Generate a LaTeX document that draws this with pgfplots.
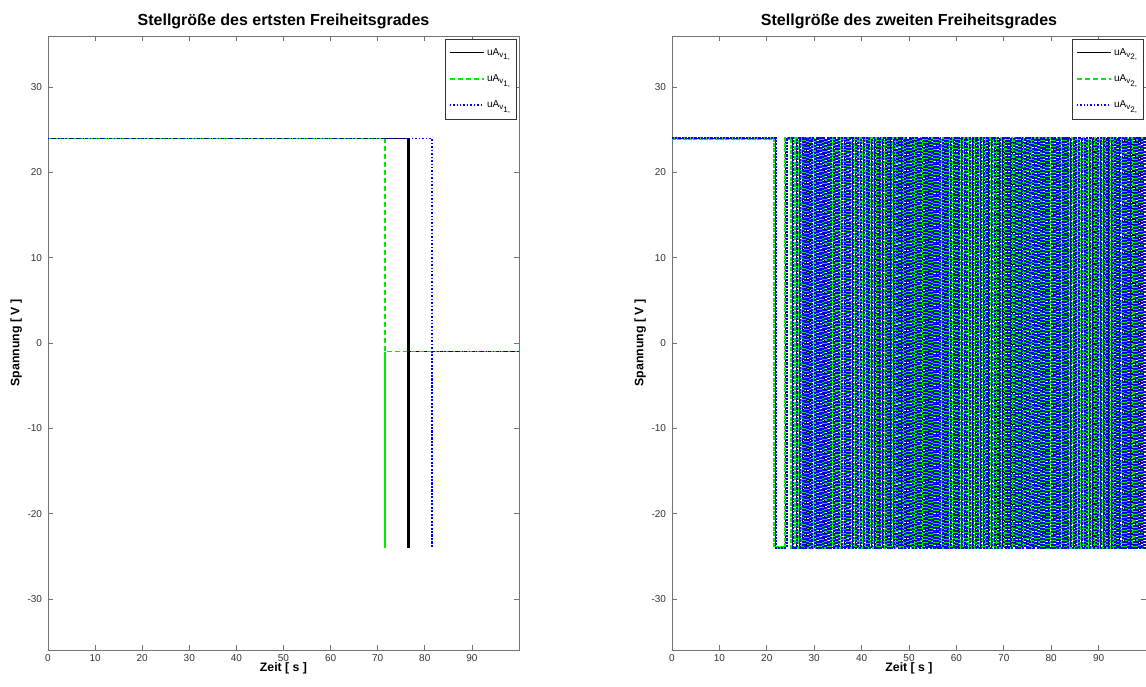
\documentclass[border=0pt]{standalone}
\usepackage{pgfplots}
\pgfplotsset{compat=1.18}
\usepackage{pgfplotstable}
\usepackage{fontspec}
\setmainfont{Liberation Sans}

\definecolor{mgreen}{RGB}{0,235,0}
\definecolor{mblue}{RGB}{0,0,255}

\pgfplotstableread{
a b c y
0 0 0 24
21.7 21.5 21.9 -24
24.0 23.8 24.2 24
25.3 25.1 25.5 -24
26.2 26.0 26.4 24
26.8 26.6 27.0 -24
27.4 27.2 27.6 24
27.9 27.7 28.1 -24
28.4 28.2 28.6 24
28.9 28.7 29.1 -24
29.4 29.2 29.6 24
30.0 29.8 30.2 -24
30.5 30.3 30.7 24
31.1 30.9 31.3 -24
31.7 31.5 31.9 24
32.2 32.0 32.4 -24
32.8 32.6 33.0 24
33.4 33.2 33.6 -24
34.0 33.8 34.2 24
34.5 34.3 34.7 -24
35.1 34.9 35.3 24
35.7 35.5 35.9 -24
36.3 36.1 36.5 24
36.8 36.6 37.0 -24
37.4 37.2 37.6 24
38.0 37.8 38.2 -24
38.6 38.4 38.8 24
39.1 38.9 39.3 -24
39.7 39.5 39.9 24
40.3 40.1 40.5 -24
40.9 40.7 41.1 24
41.4 41.2 41.6 -24
42.0 41.8 42.2 24
42.6 42.4 42.8 -24
43.2 43.0 43.4 24
43.7 43.5 43.9 -24
44.3 44.1 44.5 24
44.9 44.7 45.1 -24
45.5 45.3 45.7 24
46.0 45.8 46.2 -24
46.6 46.4 46.8 24
47.2 47.0 47.4 -24
47.8 47.6 48.0 24
48.3 48.1 48.5 -24
48.9 48.7 49.1 24
49.5 49.3 49.7 -24
50.1 49.9 50.3 24
50.6 50.4 50.8 -24
51.2 51.0 51.4 24
51.8 51.6 52.0 -24
52.4 52.2 52.6 24
52.9 52.7 53.1 -24
53.5 53.3 53.7 24
54.1 53.9 54.3 -24
54.7 54.5 54.9 24
55.2 55.0 55.4 -24
55.8 55.6 56.0 24
56.4 56.2 56.6 -24
57.0 56.8 57.2 24
57.5 57.3 57.7 -24
58.1 57.9 58.3 24
58.7 58.5 58.9 -24
59.3 59.1 59.5 24
59.8 59.6 60.0 -24
60.4 60.2 60.6 24
61.0 60.8 61.2 -24
61.6 61.4 61.8 24
62.1 61.9 62.3 -24
62.7 62.5 62.9 24
63.3 63.1 63.5 -24
63.9 63.7 64.1 24
64.4 64.2 64.6 -24
65.0 64.8 65.2 24
65.6 65.4 65.8 -24
66.2 66.0 66.4 24
66.7 66.5 66.9 -24
67.3 67.1 67.5 24
67.9 67.7 68.1 -24
68.5 68.3 68.7 24
69.0 68.8 69.2 -24
69.6 69.4 69.8 24
70.2 70.0 70.4 -24
70.8 70.6 71.0 24
71.3 71.1 71.5 -24
71.9 71.7 72.1 24
72.5 72.3 72.7 -24
73.1 72.9 73.3 24
73.6 73.4 73.8 -24
74.2 74.0 74.4 24
74.8 74.6 75.0 -24
75.4 75.2 75.6 24
75.9 75.7 76.1 -24
76.5 76.3 76.7 24
77.1 76.9 77.3 -24
77.7 77.5 77.9 24
78.2 78.0 78.4 -24
78.8 78.6 79.0 24
79.4 79.2 79.6 -24
80.0 79.8 80.2 24
80.5 80.3 80.7 -24
81.1 80.9 81.3 24
81.7 81.5 81.9 -24
82.3 82.1 82.5 24
82.8 82.6 83.0 -24
83.4 83.2 83.6 24
84.0 83.8 84.2 -24
84.6 84.4 84.8 24
85.1 84.9 85.3 -24
85.7 85.5 85.9 24
86.3 86.1 86.5 -24
86.9 86.7 87.1 24
87.4 87.2 87.6 -24
88.0 87.8 88.2 24
88.6 88.4 88.8 -24
89.2 89.0 89.4 24
89.7 89.5 89.9 -24
90.3 90.1 90.5 24
90.9 90.7 91.1 -24
91.5 91.3 91.7 24
92.0 91.8 92.2 -24
92.6 92.4 92.8 24
93.2 93.0 93.4 -24
93.8 93.6 94.0 24
94.3 94.1 94.5 -24
94.9 94.7 95.1 24
95.5 95.3 95.7 -24
96.1 95.9 96.3 24
96.6 96.4 96.8 -24
97.2 97.0 97.4 24
97.8 97.6 98.0 -24
98.4 98.2 98.6 24
98.9 98.7 99.1 -24
99.5 99.3 99.7 24
100.5 100.5 100.5 -24
}\rightdata

\pgfplotsset{
  mstyle/.style={
    scale only axis,
    height=460.5pt,
    xmin=0, xmax=100, ymin=-36, ymax=36,
    xtick={0,10,...,90}, ytick={-30,-20,...,30},
    tick align=inside, major tick length=3.5pt,
    tick style={black!55, line width=0.5pt},
    axis line style={black!55, line width=0.7pt},
    ticklabel style={font=\fontsize{7.5}{8}\selectfont, text=black!80},
    yticklabel style={xshift=-1pt},
    /pgf/number format/assume math mode=true,
    xlabel={Zeit [ s ]}, ylabel={Spannung [ V ]},
    label style={font=\fontsize{9.2}{10}\selectfont\bfseries},
    xlabel style={at={(axis description cs:0.5,0)}, anchor=north, yshift=-6pt},
    ylabel style={at={(axis description cs:-0.045,0.5)}, anchor=south},
    title style={font=\fontsize{12}{14}\selectfont\bfseries, at={(axis description cs:0.5,1)}, anchor=south, yshift=-4pt},
    legend style={at={(axis description cs:1,1)}, anchor=north east, xshift=-1.5pt, yshift=-2pt,
      font=\fontsize{7.5}{8}\selectfont, draw=black!80, row sep=9pt,
      inner xsep=3pt, inner ysep=5pt, cells={anchor=west}},
    legend image code/.code={\draw[##1] (0cm,0cm) -- (0.9cm,0cm);},
  }
}

\newcommand{\ent}[2]{uA\raisebox{-0.45ex}{\fontsize{6}{6}\selectfont v\raisebox{-0.55ex}{#1#2}}}

\begin{document}
\begin{tikzpicture}
\useasboundingbox (0,0) rectangle (859.5pt,514.5pt);

\begin{axis}[mstyle, width=353.25pt, at={(36pt,27pt)}, anchor=south west,
  title={Stellgröße des ertsten Freiheitsgrades}]
\addplot[color=black, line width=1pt] coordinates {(0,24) (76.5,24) (76.5,-24) (76.5,-1) (100,-1)};
\addlegendentry{\ent{1}{,}}
\addplot[color=mgreen, line width=1.1pt, dash pattern=on 4pt off 2pt] coordinates {(0,24) (71.5,24) (71.5,-24) (71.5,-1) (100,-1)};
\addlegendentry{\ent{1}{,}}
\addplot[color=mblue, line width=1.1pt, dash pattern=on 1.1pt off 1.5pt] coordinates {(0,24) (81.5,24) (81.5,-24) (81.5,-1) (100,-1)};
\addlegendentry{\ent{1}{,}}
\addplot[color=black, line width=2.4pt, forget plot] coordinates {(76.5,24) (76.5,-24)};
\addplot[color=mgreen, line width=1.8pt, forget plot] coordinates {(71.5,-1) (71.5,-24)};
\end{axis}

\begin{axis}[mstyle, width=355.5pt, at={(504pt,27pt)}, anchor=south west,
  title={Stellgröße des zweiten Freiheitsgrades}]
\addplot[color=black, line width=0.5pt, const plot, legend image post style={line width=0.8pt}] table[x=a, y=y] {\rightdata};
\addlegendentry{\ent{2}{,}}
\addplot[color=mgreen, line width=1.9pt, const plot, dash pattern=on 3pt off 1pt,
  legend image post style={line width=1.1pt, dash pattern=on 4pt off 2pt}] table[x=b, y=y] {\rightdata};
\addlegendentry{\ent{2}{,}}
\addplot[color=mblue, line width=1.7pt, const plot, dash pattern=on 1.6pt off 0.8pt,
  legend image post style={line width=1.1pt, dash pattern=on 1.1pt off 1.5pt}] table[x=c, y=y] {\rightdata};
\addlegendentry{\ent{2}{,}}
\end{axis}
\end{tikzpicture}
\end{document}
